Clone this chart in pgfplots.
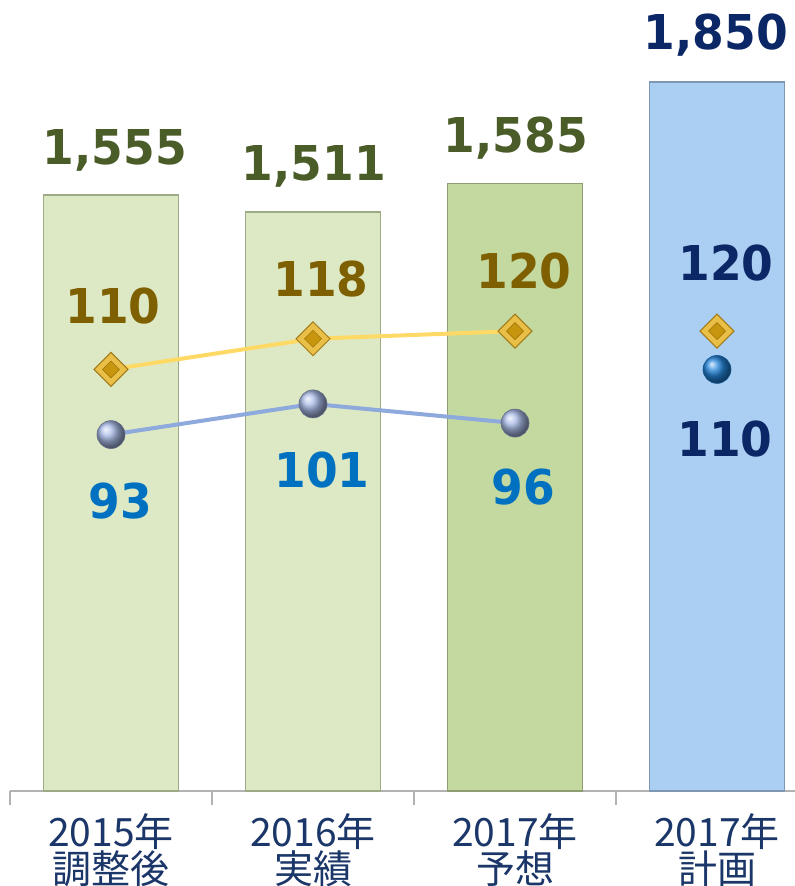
\documentclass[border=0pt]{standalone}
\usepackage{fontspec}
\usepackage{pgfplots}
\pgfplotsset{compat=1.18}
\newfontfamily\numfont{DejaVu Sans}[FakeStretch=0.95]
\newfontfamily\cjk{Noto Sans CJK JP}

\definecolor{barA}{HTML}{DDE9C4}
\definecolor{barAedge}{HTML}{9DAA86}
\definecolor{barB}{HTML}{C4D9A0}
\definecolor{barBedge}{HTML}{8E9E72}
\definecolor{barC}{HTML}{AACFF2}
\definecolor{barCedge}{HTML}{7E98B4}
\definecolor{olivetxt}{HTML}{4A5C28}
\definecolor{goldtxt}{HTML}{7F6000}
\definecolor{bluetxt}{HTML}{0070C0}
\definecolor{navytxt}{HTML}{0C2766}
\definecolor{cattxt}{HTML}{1B3668}
\definecolor{goldline}{HTML}{FFD966}
\definecolor{goldmark}{HTML}{E9BF48}
\definecolor{goldinner}{HTML}{C8960E}
\definecolor{golddark}{HTML}{A07A18}
\definecolor{blueline}{HTML}{8EA9DB}
\definecolor{ballA}{HTML}{A9BAE6}
\definecolor{ballB}{HTML}{2283D8}

\tikzset{lbl/.style={font=\numfont\bfseries\fontsize{24}{24}\selectfont, inner sep=0pt}}

\begin{document}
\begin{tikzpicture}
\pgfplotsset{
  base/.style={scale only axis, width=404pt, height=395.5pt,
    xmin=-0.5, xmax=3.5, ymin=0, clip=false},
  diaout/.style={mark=square*, mark size=6pt,
    mark options={solid, rotate=45, fill=goldmark, draw=golddark, line width=0.5pt}},
  diain/.style={only marks, mark=square*, mark size=3pt,
    mark options={solid, rotate=45, fill=goldinner, draw=goldinner!80!black, line width=0.3pt}},
}
% bars (left scale)
\begin{axis}[base, name=main, ymax=2064,
  axis y line=none, axis x line*=bottom,
  axis line style={draw=gray!60, line width=0.8pt, -},
  xtick={0,1,2,3},
  xticklabels={{2015年\\調整後},{2016年\\実績},{2017年\\予想},{2017年\\計画}},
  major tick length=0pt,
  xticklabel style={align=center, font=\cjk\fontsize{19.5}{18.5}\selectfont,
    text=cattxt, inner sep=0pt, yshift=-11pt},
  extra x ticks={-0.5,0.5,1.5,2.5},
  extra x tick labels={},
  extra x tick style={major tick length=7pt, tick align=outside,
    tick style={draw=gray!60, line width=0.8pt}},
  ybar, bar width=0.668,
]
\addplot[bar shift=0pt, fill=barA, draw=barAedge, line width=0.6pt] coordinates {(0,1555) (1,1511)};
\addplot[bar shift=0pt, fill=barB, draw=barBedge, line width=0.6pt] coordinates {(2,1585)};
\addplot[bar shift=0pt, fill=barC, draw=barCedge, line width=0.6pt] coordinates {(3,1850)};

\node[lbl, text=olivetxt, anchor=base, xshift=2pt, yshift=15.5pt] at (axis cs:0,1555) {1,555};
\node[lbl, text=olivetxt, anchor=base, xshift=0.5pt, yshift=15.5pt] at (axis cs:1,1511) {1,511};
\node[lbl, text=olivetxt, anchor=base, xshift=0.5pt, yshift=15.5pt] at (axis cs:2,1585) {1,585};
\node[lbl, text=navytxt, anchor=base, xshift=-0.5pt, yshift=16pt] at (axis cs:3,1850) {1,850};
\end{axis}

% lines (right scale, one tenth of the left)
\begin{axis}[base, ymax=206.4, hide axis]
\addplot[goldline, line width=2pt, diaout] coordinates {(0,110) (1,118) (2,120)};
\addplot[diain] coordinates {(0,110) (1,118) (2,120)};
\addplot[blueline, line width=2pt, mark=ball, mark size=7pt,
  mark options={ball color=ballA, draw=ballA!60!black, line width=0.3pt}]
  coordinates {(0,93) (1,101) (2,96)};
\addplot[only marks, diaout] coordinates {(3,120)};
\addplot[diain] coordinates {(3,120)};
\addplot[only marks, mark=ball, mark size=7pt,
  mark options={ball color=ballB, draw=ballB!70!black, line width=0.3pt}]
  coordinates {(3,110)};

\node[lbl, text=goldtxt, xshift=1pt, yshift=31.5pt] at (axis cs:0,110) {110};
\node[lbl, text=goldtxt, xshift=4pt, yshift=30pt] at (axis cs:1,118) {118};
\node[lbl, text=goldtxt, xshift=4.5pt, yshift=30pt] at (axis cs:2,120) {120};
\node[lbl, text=bluetxt, xshift=4.5pt, yshift=-33pt] at (axis cs:0,93) {93};
\node[lbl, text=bluetxt, xshift=4.5pt, yshift=-33pt] at (axis cs:1,101) {101};
\node[lbl, text=bluetxt, xshift=4pt, yshift=-32pt] at (axis cs:2,96) {96};
\node[lbl, text=navytxt, xshift=4.5pt, yshift=34pt] at (axis cs:3,120) {120};
\node[lbl, text=navytxt, xshift=4pt, yshift=-35pt] at (axis cs:3,110) {110};
\end{axis}

\pgfresetboundingbox
\path[use as bounding box] ([shift={(-5pt,-47.5pt)}]main.south west) rectangle ++(397.5pt,443pt);
\end{tikzpicture}
\end{document}
